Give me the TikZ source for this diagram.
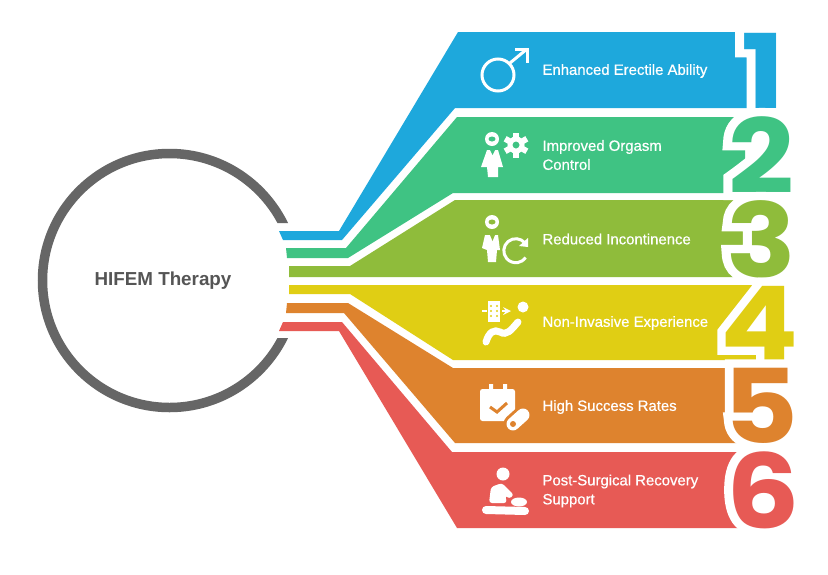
\documentclass[tikz,border=0pt]{standalone}
\usepackage{fontspec}
\usepackage{xcolor}
\usepackage{tikz}
\setmainfont{Liberation Sans}
\newfontfamily\labelfont[FakeBold=0.6]{Liberation Sans}
\newfontfamily\digitfont{Poppins}
\newfontfamily\digithalo[FakeBold=16]{Poppins}
\definecolor{barblue}{HTML}{1EA8DC}
\definecolor{bargreen}{HTML}{3FC383}
\definecolor{barolive}{HTML}{8FBC3B}
\definecolor{baryellow}{HTML}{E0CE14}
\definecolor{barorange}{HTML}{DE832E}
\definecolor{barred}{HTML}{E75A55}
\definecolor{hubgray}{HTML}{666666}
\definecolor{hubtext}{HTML}{555555}
\begin{document}
\begin{tikzpicture}[x=1pt,y=-1pt,
  label text/.style={anchor=west,text=white,align=left,font=\fontsize{14.9}{19}\labelfont},
  icon line/.style={white,line width=3pt},
  digit/.style={anchor=base,inner sep=0pt,xscale=1.12,transform shape,font=\fontsize{103}{103}\digitfont\bfseries}]
\newcommand{\BarDigit}[5]{%
    \node[digit,text=white,font=\fontsize{103}{103}\digithalo\bfseries] (#1h) at (#2,#3) {#5};%
    \node[digit,text=#4] (#1) at (#2,#3) {#5};%
}
\useasboundingbox (0,0) rectangle (828,574);
\fill[white] (0,0) rectangle (828,574);
% circle
\coordinate (hubc) at (169.5,280.5);
\begin{scope}
\clip (0,0) -| (828,223) -| (200,338) -| (828,574) -| cycle;
\draw[hubgray,line width=9.5pt] (hubc) circle (127pt);
\end{scope}
\node[text=hubtext,font=\fontsize{18.8}{24}\selectfont\bfseries] (hub) at (163,281) {HIFEM Therapy};
% bars
\fill[barblue] (279,231) -- (339,231) -- (458,32) -- (779,32) -- (779,108) -- (455,108) -- (342,240) -- (283,240) -- cycle;
\fill[bargreen] (286,248) -- (346,248) -- (457,117) -- (745,117) -- (745,193) -- (453,193) -- (348,258) -- (287,258) -- cycle;
\fill[barolive] (289,266) -- (350,266) -- (455,200) -- (745,200) -- (745,277) -- (289,277) -- cycle;
\fill[baryellow] (289,285) -- (784,285) -- (784,360) -- (453,360) -- (350,294) -- (289,294) -- cycle;
\fill[barorange] (287,303) -- (348,303) -- (453,368) -- (745,368) -- (745,443) -- (455,443) -- (344,313) -- (286,313) -- cycle;
\fill[barred] (283,322) -- (342,322) -- (452,452) -- (745,452) -- (745,528) -- (457,528) -- (339,331) -- (279,331) -- cycle;
% numbers
\BarDigit{numA}{763}{108}{barblue}{1}
\BarDigit{numB}{761}{193}{bargreen}{2}
\BarDigit{numC}{761}{277}{barolive}{3}
\BarDigit{numD}{760}{360}{baryellow}{4}
\BarDigit{numE}{761}{443}{barorange}{5}
\BarDigit{numF}{763}{528}{barred}{6}
% labels
\node[label text] (labA) at (539,71) {Enhanced Erectile Ability};
\node[label text] (labB) at (539,155) {Improved Orgasm\\Control};
\node[label text] (labC) at (539,239) {Reduced Incontinence};
\node[label text] (labD) at (539,323) {Non-Invasive Experience};
\node[label text] (labE) at (539,407) {High Success Rates};
\node[label text] (labF) at (539,491) {Post-Surgical Recovery\\Support};
% male icon
\draw[icon line] (498,75) circle (16pt);
\draw[icon line] (510,63) -- (527,49);
\draw[icon line] (515,49) -- (527,49) -- (527,63);
% person and gear
\fill[white] (492,139) circle (7pt);
\fill[bargreen] (492,139) ellipse (3.5pt and 2.5pt);
\fill[white] (487,150) -- (498,150) -- (503,167) -- (498,167) -- (498,177) -- (488,177) -- (487,167) -- (481,167) -- cycle;
\fill[bargreen] (490,150) -- (495,150) -- (492.5,155) -- cycle;
\draw[white,line width=5pt] (516,145) circle (6pt);
\foreach \a in {0,60,...,300}
  \fill[white,shift={(516,145)},rotate=\a] (-3,-12.5) rectangle (3,-6);
% person and reload
\fill[white] (492,222) circle (7pt);
\fill[barolive] (492,222) ellipse (3.5pt and 2.5pt);
\fill[white] (485,235) -- (498,235) -- (500,250) -- (497,250) -- (496,262) -- (488,262) -- (487,250) -- (482,248) -- cycle;
\fill[barolive] (490,235) -- (495,235) -- (492.5,241) -- cycle;
\draw[icon line] (525,243) arc (40:325:12pt);
\fill[white] (528,238) -- (528,247) -- (519,246) -- cycle;
% seat and arrow
\fill[white] (523,307) circle (5.5pt);
\draw[white,line width=7pt,line cap=round] (486,342) .. controls (489,332) and (494,329) .. (500,332) .. controls (507,336) and (511,330) .. (518,322);
\fill[white] (488,301) rectangle (500,322);
\foreach \yy in {306,311,316}
  \foreach \xx in {491,497}
    \fill[baryellow] (\xx,\yy) circle (1.2pt);
\draw[-stealth,white,line width=2.4pt] (502,311) -- (511,311);
\draw[white,line width=2.4pt] (482,311) -- (487,311);
% calendar and pill
\fill[white,rounded corners=2.5pt] (480,389) rectangle (515,421);
\fill[white] (489,384) rectangle (493,392) (503,384) rectangle (507,392);
\draw[barorange,line width=3pt] (490,407) -- (497,412) -- (507,403);
\draw[barorange,line width=19pt,line cap=round] (513,424) -- (523,415);
\draw[white,line width=13pt,line cap=round] (513,424) -- (523,415);
\fill[barorange] (513,424) circle (3pt);
% massage
\fill[white] (503,474) circle (6.5pt);
\fill[white,rounded corners=3pt] (489,503) -- (491,487) -- (502,483) -- (514,495) -- (509,499) -- (505,495) -- (507,503) -- cycle;
\draw[white,line width=8pt,line cap=round] (486,510) -- (525,511);
\fill[white] (519,502) ellipse (8pt and 4.5pt);
\end{tikzpicture}
\end{document}
